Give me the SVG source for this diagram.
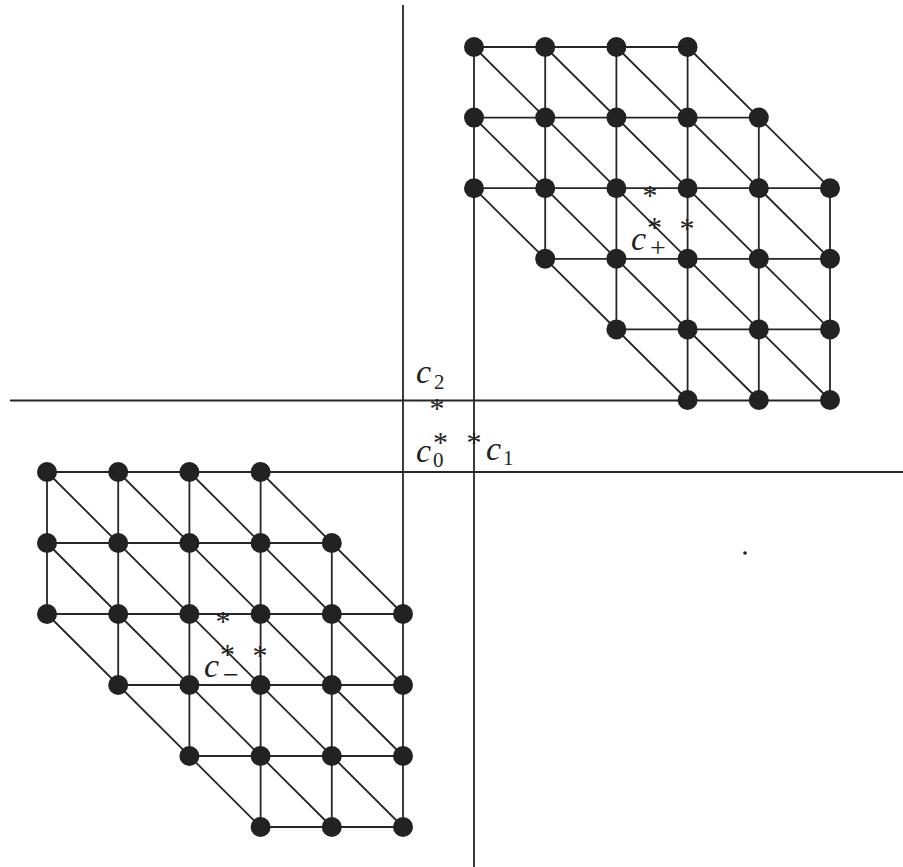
<svg xmlns="http://www.w3.org/2000/svg" width="903" height="867" viewBox="0 0 903 867">
<style>
.ln{stroke:#262626;stroke-width:1.8;fill:none}
.dot{fill:#222}
.c{font-family:"Liberation Serif",serif;font-style:italic;font-size:34px;fill:#222}
.sub{font-style:normal;font-size:21px}
.sup{font-style:normal;font-size:30px}
.opr{font-style:normal;font-size:28px}
.ast{font-family:"Liberation Serif",serif;font-size:30px;fill:#222;text-anchor:middle}
</style>
<rect width="903" height="867" fill="#fff"/>
<g id="connectors">
<g id="axes" class="ln">
<path d="M403 5V827"/>
<path d="M474 47V867"/>
<path d="M10 400.5H830"/>
<path d="M47 472H903"/>
</g>
<g id="lattice-upper-edges" class="ln">
<path d="M474 47H687.6M474 117.6H758.8M474 188.2H830M545.2 258.8H830M616.4 329.4H830"/>
<path d="M545.2 47V258.8M616.4 47V329.4M687.6 47V400M758.8 117.6V400M830 188.2V400"/>
<path d="M687.6 47L830 188.2M616.4 47L830 258.8M545.2 47L830 329.4M474 47L830 400M474 117.6L758.8 400M474 188.2L687.6 400"/>
</g>
<g id="lattice-lower-edges" class="ln">
<path d="M47 543H331.8M47 614H403M118.2 685H403M189.4 756H403M260.6 827H403"/>
<path d="M47 472V614M118.2 472V685M189.4 472V756M260.6 472V827M331.8 543V827"/>
<path d="M260.6 472L403 614M189.4 472L403 685M118.2 472L403 756M47 472L403 827M47 543L331.8 827M47 614L260.6 827"/>
</g>
</g>
<g id="lattice-upper" class="dot">
<circle cx="474" cy="47" r="10"/><circle cx="545.2" cy="47" r="10"/><circle cx="616.4" cy="47" r="10"/><circle cx="687.6" cy="47" r="10"/>
<circle cx="474" cy="117.6" r="10"/><circle cx="545.2" cy="117.6" r="10"/><circle cx="616.4" cy="117.6" r="10"/><circle cx="687.6" cy="117.6" r="10"/><circle cx="758.8" cy="117.6" r="10"/>
<circle cx="474" cy="188.2" r="10"/><circle cx="545.2" cy="188.2" r="10"/><circle cx="616.4" cy="188.2" r="10"/><circle cx="687.6" cy="188.2" r="10"/><circle cx="758.8" cy="188.2" r="10"/><circle cx="830" cy="188.2" r="10"/>
<circle cx="545.2" cy="258.8" r="10"/><circle cx="616.4" cy="258.8" r="10"/><circle cx="687.6" cy="258.8" r="10"/><circle cx="758.8" cy="258.8" r="10"/><circle cx="830" cy="258.8" r="10"/>
<circle cx="616.4" cy="329.4" r="10"/><circle cx="687.6" cy="329.4" r="10"/><circle cx="758.8" cy="329.4" r="10"/><circle cx="830" cy="329.4" r="10"/>
<circle cx="687.6" cy="400" r="10"/><circle cx="758.8" cy="400" r="10"/><circle cx="830" cy="400" r="10"/>
</g>
<g id="lattice-lower" class="dot">
<circle cx="47" cy="472" r="10"/><circle cx="118.2" cy="472" r="10"/><circle cx="189.4" cy="472" r="10"/><circle cx="260.6" cy="472" r="10"/>
<circle cx="47" cy="543" r="10"/><circle cx="118.2" cy="543" r="10"/><circle cx="189.4" cy="543" r="10"/><circle cx="260.6" cy="543" r="10"/><circle cx="331.8" cy="543" r="10"/>
<circle cx="47" cy="614" r="10"/><circle cx="118.2" cy="614" r="10"/><circle cx="189.4" cy="614" r="10"/><circle cx="260.6" cy="614" r="10"/><circle cx="331.8" cy="614" r="10"/><circle cx="403" cy="614" r="10"/>
<circle cx="118.2" cy="685" r="10"/><circle cx="189.4" cy="685" r="10"/><circle cx="260.6" cy="685" r="10"/><circle cx="331.8" cy="685" r="10"/><circle cx="403" cy="685" r="10"/>
<circle cx="189.4" cy="756" r="10"/><circle cx="260.6" cy="756" r="10"/><circle cx="331.8" cy="756" r="10"/><circle cx="403" cy="756" r="10"/>
<circle cx="260.6" cy="827" r="10"/><circle cx="331.8" cy="827" r="10"/><circle cx="403" cy="827" r="10"/>
</g>
<g id="marks">
<text class="ast" x="650" y="205">*</text>
<text class="ast" x="687" y="238">*</text>
<text class="ast" x="223" y="631">*</text>
<text class="ast" x="260" y="665">*</text>
<text class="ast" x="437" y="418">*</text>
<text class="ast" x="474" y="452">*</text>
<circle cx="745" cy="553" r="1.8" fill="#222"/>
</g>
<g id="label-cplus">
<text class="c" x="631" y="250">c<tspan class="sup" x="647" y="237">*</tspan><tspan class="opr" x="650" y="257">+</tspan></text>
</g>
<g id="label-cminus">
<text class="c" x="204" y="677">c<tspan class="sup" x="220" y="664">*</tspan><tspan class="opr" x="223" y="684">−</tspan></text>
</g>
<g id="label-c2">
<text class="c" x="416" y="383">c<tspan class="sub" x="434" y="389">2</tspan></text>
</g>
<g id="label-c0">
<text class="c" x="416" y="462">c<tspan class="sup" x="433" y="452">*</tspan><tspan class="sub" x="433" y="467">0</tspan></text>
</g>
<g id="label-c1">
<text class="c" x="486" y="460">c<tspan class="sub" x="503" y="465">1</tspan></text>
</g>
</svg>
